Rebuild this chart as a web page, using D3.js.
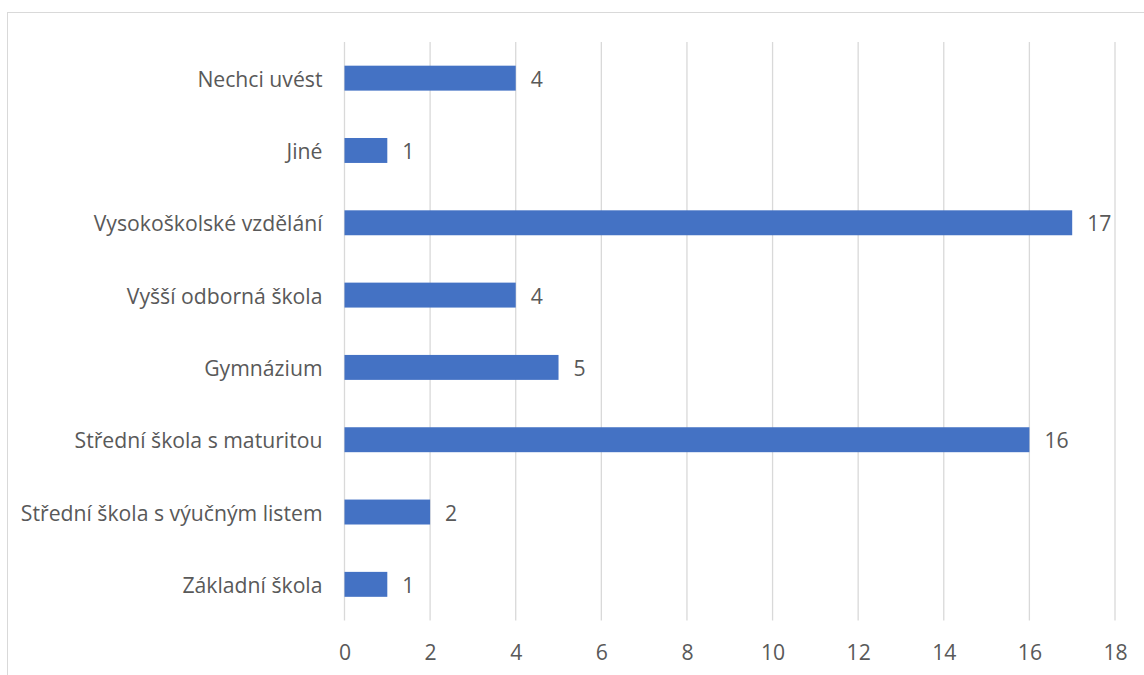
<!DOCTYPE html>
<html>
<head>
<meta charset="utf-8">
<script src="https://cdn.jsdelivr.net/npm/d3@7"></script>
<style>
  html, body { margin: 0; padding: 0; background: #fff; }
  svg { display: block; }
  text { font-family: "Open Sans", "Liberation Sans", sans-serif; fill: #595959; }
</style>
</head>
<body>
<svg id="chart" width="1144" height="675"></svg>
<script>
// Highest completed education of respondents
const categories = [
  "Nechci uvést",
  "Jiné",
  "Vysokoškolské vzdělání",
  "Vyšší odborná škola",
  "Gymnázium",
  "Střední škola s maturitou",
  "Střední škola s výučným listem",
  "Základní škola"
];
const counts = [4, 1, 17, 4, 5, 16, 2, 1];
const xTicks = [0, 2, 4, 6, 8, 10, 12, 14, 16, 18];

const svg = d3.select("#chart");
const W = 1144, H = 675;
const plot = { left: 344.5, right: 1115, top: 42, bottom: 620.5 };
const fontSize = "21.2px";

// chart frame
svg.append("rect")
  .attr("x", 7.5).attr("y", 12.5)
  .attr("width", W + 10).attr("height", H + 10)
  .attr("fill", "#fff")
  .attr("stroke", "#d9d9d9").attr("stroke-width", 1);

const x = d3.scaleLinear().domain([0, 18]).range([plot.left, plot.right]);
const y = d3.scaleBand().domain(categories).range([plot.top, plot.bottom]).paddingInner(0.655).paddingOuter(0.3275);

// vertical gridlines
svg.append("g")
  .selectAll("line")
  .data(xTicks)
  .join("line")
  .attr("x1", d => x(d)).attr("x2", d => x(d))
  .attr("y1", plot.top).attr("y2", plot.bottom)
  .attr("stroke", "#d9d9d9").attr("stroke-width", 1.3);

// x tick labels
const xAxis = d3.axisBottom(x).tickValues(xTicks).tickSize(0).tickPadding(0);
const gx = svg.append("g").attr("transform", `translate(0,${plot.bottom})`).call(xAxis);
gx.select(".domain").remove();
gx.selectAll("text")
  .attr("dy", null)
  .attr("y", 31)
  .attr("dominant-baseline", "central")
  .style("font-size", fontSize)
  .attr("fill", "#595959");

// category labels
const yAxis = d3.axisLeft(y).tickSize(0).tickPadding(22);
const gy = svg.append("g").attr("transform", `translate(${plot.left},0)`).call(yAxis);
gy.select(".domain").remove();
gy.selectAll("text")
  .attr("dy", null)
  .attr("dominant-baseline", "central")
  .style("font-size", fontSize)
  .attr("fill", "#595959");

const rows = categories.map((c, i) => ({ c, v: counts[i] }));

// bars
svg.append("g")
  .selectAll("rect")
  .data(rows)
  .join("rect")
  .attr("x", x(0))
  .attr("y", d => y(d.c))
  .attr("width", d => x(d.v) - x(0))
  .attr("height", y.bandwidth())
  .attr("fill", "#4472c4");

// value labels
svg.append("g")
  .selectAll("text")
  .data(rows)
  .join("text")
  .attr("x", d => x(d.v) + 15)
  .attr("y", d => y(d.c) + y.bandwidth() / 2)
  .attr("dominant-baseline", "central")
  .style("font-size", fontSize)
  .text(d => d.v);
</script>
</body>
</html>
